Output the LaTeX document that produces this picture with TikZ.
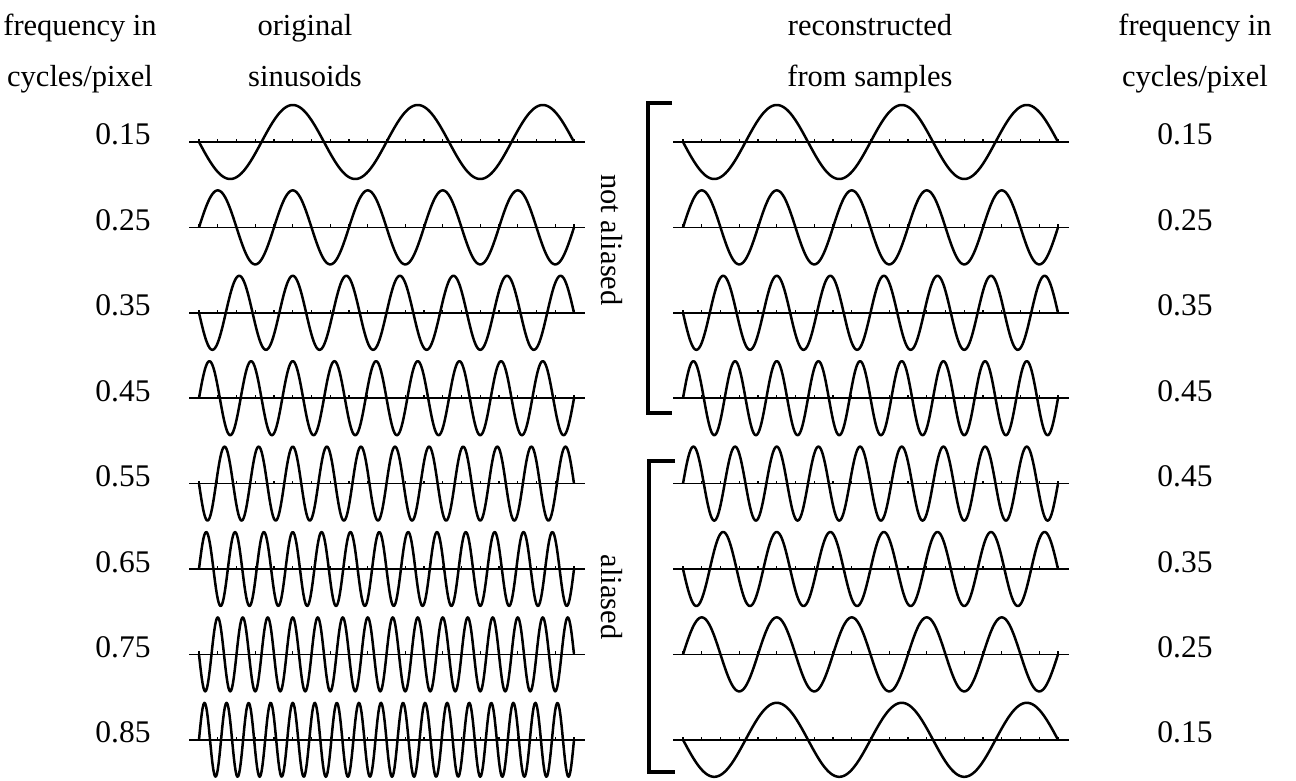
\documentclass[tikz,border=0pt]{standalone}
\usepackage{fontspec}
\setmainfont{Liberation Serif}

% one sampled sinusoid on its axis: #1 left end of the wave, #2 axis height,
% #3 frequency in cycles/pixel, #4 +1 starts upwards / -1 starts downwards
\newcommand\sinerow[4]{%
  \draw[axisline] (#1-10,#2) -- (#1+386,#2);
  \foreach \n in {0,...,20} \draw[tickmark] (#1+18.75*\n,#2) -- ++(0,-3);
  \draw[wave] plot[domain=0:20, samples=421]
    ({#1+18.75*\x}, {#2-(#4)*37*sin(360*#3*\x)});
}

\begin{document}
\begin{tikzpicture}[x=1pt, y=-1pt,
  lbl/.style={inner sep=0pt, anchor=base, font=\fontsize{30.5}{36}\selectfont},
  numlbl/.style={lbl, font=\fontsize{31.5}{36}\selectfont},
  sidelbl/.style={lbl, rotate=-90, anchor=center},
  wave/.style={line width=2.5pt, line join=round},
  axisline/.style={line width=1.7pt},
  tickmark/.style={line width=1.1pt},
  bracketline/.style={line width=3.6pt, line join=miter}]
\useasboundingbox[fill=white] (0,0) rectangle (1296,781);

% column headings
\node[lbl] (hfl1) at (80,36) {frequency in};
\node[lbl] (hfl2) at (80,87) {cycles/pixel};
\node[lbl] (hor1) at (305,36) {original};
\node[lbl] (hor2) at (305,87) {sinusoids};
\node[lbl] (hre1) at (870,36) {reconstructed};
\node[lbl] (hre2) at (870,87) {from samples};
\node[lbl] (hfr1) at (1195,36) {frequency in};
\node[lbl] (hfr2) at (1195,87) {cycles/pixel};

% original sinusoids with their frequencies
\foreach \i/\f/\s in {0/0.15/-1, 1/0.25/1, 2/0.35/-1, 3/0.45/1,
                      4/0.55/-1, 5/0.65/1, 6/0.75/-1, 7/0.85/1} {
  \pgfmathsetmacro\yy{142+85.4*\i}
  \sinerow{199}{\yy}{\f}{\s}
  \node[numlbl] (fl\i) at (123,\yy+3) {\f};
}

% sinusoids reconstructed from the samples
\foreach \i/\f/\s in {0/0.15/-1, 1/0.25/1, 2/0.35/-1, 3/0.45/1,
                      4/0.45/1, 5/0.35/-1, 6/0.25/1, 7/0.15/-1} {
  \pgfmathsetmacro\yy{142+85.4*\i}
  \sinerow{683}{\yy}{\f}{\s}
  \node[numlbl] (fr\i) at (1185,\yy+3) {\f};
}

% brackets grouping the reconstructions
\draw[bracketline] (672,103) -- (648,103) -- (648,413) -- (672,413);
\draw[bracketline] (675,461) -- (649,461) -- (649,772) -- (675,772);
\node[sidelbl] (notal) at (612,240) {not aliased};
\node[sidelbl] (al) at (612,597) {aliased};
\end{tikzpicture}
\end{document}
